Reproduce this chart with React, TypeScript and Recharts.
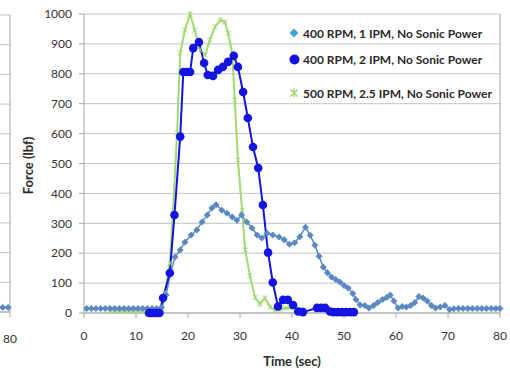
import React from 'react';
import { LineChart, Line, XAxis, YAxis, CartesianGrid, Legend } from 'recharts';

const xTicks = [0, 10, 20, 30, 40, 50, 60, 70, 80];
const yTicks = [0, 100, 200, 300, 400, 500, 600, 700, 800, 900, 1000];

const seriesNames = [
  '400 RPM, 1 IPM, No Sonic Power',
  '400 RPM, 2 IPM, No Sonic Power',
  '500 RPM, 2.5 IPM, No Sonic Power',
];

// 400 RPM, 1 IPM
const slowTime = [
  0.5, 1.4, 2.3, 3.2, 4.1, 5.0, 5.9, 6.8, 7.7, 8.6, 9.5, 10.4, 11.3, 12.2, 13.1, 14.0, 14.9,
  15.8, 16.6, 17.5, 18.5, 19.4, 20.6, 21.7, 22.7, 23.7, 24.6, 25.4, 26.5, 27.5, 28.5, 29.4,
  30.3, 31.3, 32.3, 33.3, 34.2, 35.2, 36.3, 37.5, 38.5, 39.5, 40.5, 41.5, 42.6, 43.5, 44.4,
  45.2, 46.0, 46.8, 47.6, 48.4, 49.2, 50.0, 50.8, 51.7, 52.3, 53.1, 54.0, 54.8, 55.7, 56.5,
  57.4, 58.2, 58.9, 59.6, 60.4, 61.2, 62.0, 62.8, 63.6, 64.4, 65.2, 66.0, 66.8, 67.6, 68.5,
  69.4, 70.3, 71.1, 72.0, 72.9, 73.8, 74.7, 75.6, 76.5, 77.4, 78.3, 79.2, 80.0,
];
const slowForce = [
  15, 15, 15, 15, 15, 15, 15, 15, 15, 15, 15, 15, 15, 15, 15, 15, 18,
  60, 130, 187, 211, 237, 261, 278, 304, 328, 351, 362, 344, 334, 321, 310,
  328, 304, 284, 261, 251, 267, 261, 254, 245, 230, 235, 255, 287, 260, 227,
  190, 154, 135, 120, 112, 104, 92, 84, 65, 45, 27, 25, 17, 25, 35,
  45, 52, 60, 40, 17, 22, 20, 25, 35, 55, 50, 40, 25, 17, 20,
  25, 12, 14, 15, 15, 15, 15, 15, 15, 15, 15, 15, 15,
];

// 400 RPM, 2 IPM
const midTime = [
  12.5, 13.0, 13.5, 14.0, 14.5, 15.2, 16.5, 17.4, 18.5, 19.1, 19.8, 20.4, 21.0, 22.1, 23.1,
  23.8, 24.8, 25.8, 26.7, 27.7, 28.8, 29.6, 30.6, 31.5, 32.5, 33.5, 34.4, 35.4, 36.3, 37.3,
  38.3, 39.2, 40.2, 41.2, 42.1, 44.8, 45.6, 46.4, 47.3, 48.0, 48.8, 49.6, 50.4, 51.2, 51.9,
];
const midForce = [
  0, 0, 0, 0, 0, 50, 134, 328, 590, 806, 806, 806, 886, 906, 836,
  796, 793, 813, 823, 840, 860, 823, 739, 652, 555, 485, 361, 202, 102, 22,
  44, 44, 27, 5, 3, 17, 17, 17, 5, 3, 3, 3, 3, 3, 3,
];

// 500 RPM, 2.5 IPM
const fastTime = [
  5.0, 6.0, 7.0, 8.0, 9.0, 10.0, 11.0, 12.0, 13.0, 14.0, 15.0, 15.6, 16.5, 17.1, 17.9, 18.5,
  19.4, 20.4, 21.3, 22.3, 23.3, 24.2, 25.2, 26.2, 27.1, 27.7, 28.5, 29.0, 29.6, 30.4, 31.0,
  31.9, 32.9, 33.8, 34.8, 35.8, 36.7, 37.7, 38.7, 39.7, 40.7, 41.6, 42.5,
];
const fastForce = [
  8, 8, 8, 8, 8, 8, 8, 8, 8, 8, 10, 67, 167, 334, 602, 870,
  946, 1000, 946, 880, 863, 913, 957, 980, 973, 936, 870, 712, 512, 344, 211,
  125, 52, 30, 50, 20, 10, 12, 17, 17, 17, 12, 10,
];

// tail of the neighbouring chart, cut off at the left edge
const leftTailTime = [71.6, 72.5, 73.4, 74.3, 75.2, 76.1, 77.0, 77.9, 78.8, 79.7];
const leftTailForce = [15, 15, 15, 15, 15, 15, 15, 15, 15, 15];

const pair = (ts: number[], fs: number[]) => ts.map((t, i) => ({ t, f: fs[i] }));
const slowData = pair(slowTime, slowForce);
const midData = pair(midTime, midForce);
const fastData = pair(fastTime, fastForce);
const leftTailData = pair(leftTailTime, leftTailForce);

const FONT = 'Lato, "Open Sans", sans-serif';
const GRID = '#c4c4c4';
const AXIS = '#a6a6a6';
const TEXT = '#333';
const SLOW = '#5b89c3';
const MID = '#1414e0';
const FAST = '#a2d870';

// right-hand frame line of a plot area
const rightEdge = ({ offset }: any) => [offset.left + offset.width];

const Diamond = ({ cx, cy }: any) => {
  if (cx == null || cy == null) return null;
  const s = 3.5;
  return <path d={`M${cx},${cy - s}L${cx + s},${cy}L${cx},${cy + s}L${cx - s},${cy}Z`} fill={SLOW} />;
};

const Star = ({ cx, cy }: any) => {
  if (cx == null || cy == null) return null;
  const s = 2.5;
  return (
    <g stroke={FAST} strokeWidth={1}>
      <line x1={cx - s} y1={cy - s} x2={cx + s} y2={cy + s} />
      <line x1={cx - s} y1={cy + s} x2={cx + s} y2={cy - s} />
      <line x1={cx} y1={cy - s} x2={cx} y2={cy + s} />
    </g>
  );
};

const legendMarkers = [
  <svg width={10} height={10} key="a"><path d="M5,0.5L9.5,5L5,9.5L0.5,5Z" fill="#3fa6dc" /></svg>,
  <svg width={11} height={11} key="b"><circle cx={5.5} cy={5.5} r={5} fill={MID} /></svg>,
  <svg width={10} height={10} key="c">
    <g stroke={FAST} strokeWidth={1.4}>
      <line x1={1.5} y1={1.5} x2={8.5} y2={8.5} /><line x1={1.5} y1={8.5} x2={8.5} y2={1.5} /><line x1={5} y1={0.5} x2={5} y2={9.5} />
    </g>
  </svg>,
];
const legendGaps = [8, 16, 0];

const ChartLegend = () => (
  <div style={{ fontFamily: FONT, fontSize: 12, fontWeight: 700, color: '#2a2a2a' }}>
    {seriesNames.map((name, i) => (
      <div key={name} style={{ display: 'flex', alignItems: 'center', height: 18, marginBottom: legendGaps[i] }}>
        <div style={{ width: 14, display: 'flex', justifyContent: 'center' }}>{legendMarkers[i]}</div>
        <span style={{ marginLeft: 2, whiteSpace: 'nowrap' }}>{name}</span>
      </div>
    ))}
  </div>
);

const YTitle = ({ viewBox }: any) => {
  const x = viewBox.x + 8;
  const y = viewBox.y + viewBox.height / 2 + 2;
  return (
    <text x={x} y={y} transform={`rotate(-90 ${x} ${y})`} textAnchor="middle" dominantBaseline="central"
      fontFamily={FONT} fontSize={13} fontWeight={700} fill="#2a2a2a">
      Force (lbf)
    </text>
  );
};

const XTitle = ({ viewBox }: any) => (
  <text x={viewBox.x + viewBox.width / 2} y={361} textAnchor="middle" dominantBaseline="central"
    fontFamily={FONT} fontSize={13} fontWeight={700} fill="#2a2a2a">
    Time (sec)
  </text>
);

const tickStyle = { fill: TEXT, fontSize: 12, fontFamily: FONT };

export default function App() {
  return (
    <div style={{ position: 'absolute', left: 0, top: 0, width: 510, height: 371, overflow: 'hidden', background: '#fff' }}>
      <div style={{ position: 'absolute', left: -50, top: 0 }}>
        <LineChart width={80} height={371} data={leftTailData} margin={{ top: 15, right: 20, bottom: 9, left: 0 }}>
          <CartesianGrid vertical={false} stroke={GRID} />
          <CartesianGrid horizontal={false} verticalCoordinatesGenerator={rightEdge} stroke={AXIS} />
          <XAxis type="number" dataKey="t" domain={[70, 80]} ticks={[70, 80]} height={50} stroke={AXIS}
            tickSize={5} tickMargin={17} tick={tickStyle} />
          <YAxis domain={[0, 1000]} ticks={yTicks} hide />
          <Line dataKey="f" stroke={SLOW} strokeWidth={1.5} dot={<Diamond />} isAnimationActive={false} />
        </LineChart>
      </div>
      <div style={{ position: 'absolute', left: 0, top: 0 }}>
        <LineChart width={510} height={371} margin={{ top: 14, right: 10, bottom: 8, left: 20 }}>
          <CartesianGrid vertical={false} stroke={GRID} />
          <CartesianGrid horizontal={false} verticalCoordinatesGenerator={rightEdge} stroke={AXIS} />
          <XAxis type="number" dataKey="t" domain={[0, 80]} ticks={xTicks} height={50} stroke={AXIS}
            tickSize={5} tickMargin={13} tick={tickStyle} label={<XTitle />} />
          <YAxis domain={[0, 1000]} ticks={yTicks} width={64} stroke={AXIS} tickSize={5} tickMargin={7}
            tick={tickStyle} label={<YTitle />} />
          <Line data={fastData} dataKey="f" name={seriesNames[2]} stroke={FAST} strokeWidth={2} dot={<Star />} isAnimationActive={false} />
          <Line data={slowData} dataKey="f" name={seriesNames[0]} stroke={SLOW} strokeWidth={1.5} dot={<Diamond />} isAnimationActive={false} />
          <Line data={midData} dataKey="f" name={seriesNames[1]} stroke={MID} strokeWidth={2}
            dot={{ r: 4.3, fill: MID, stroke: MID, strokeWidth: 0 }} isAnimationActive={false} />
          <Legend layout="vertical" align="center" verticalAlign="middle" content={<ChartLegend />}
            wrapperStyle={{ left: 287, top: 24, width: 220, height: 'auto' }} />
        </LineChart>
      </div>
    </div>
  );
}
